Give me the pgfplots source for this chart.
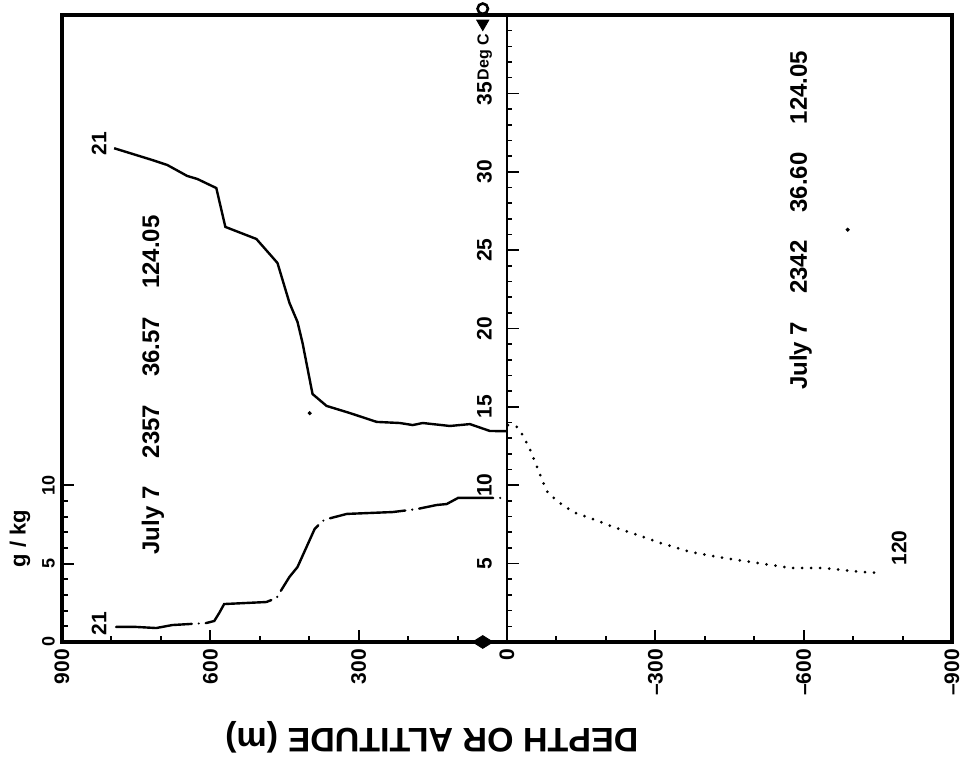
\documentclass[border=0pt]{standalone}
\usepackage{pgfplots}
\pgfplotsset{compat=1.18}
\usepackage{pgfplotstable}
\usepackage{fontspec}
\setmainfont{Liberation Sans}

% temperature, July 7 2357 (solid)
\pgfplotstableread{
d v
794.6 31.50
717.6 30.75
687.0 30.43
646.7 29.73
626.4 29.54
587.9 28.96
569.6 26.48
506.8 25.71
464.2 24.18
439.9 21.63
423.7 20.42
413.5 19.08
393.3 15.82
364.9 15.06
318.3 14.61
263.5 14.04
216.9 13.97
190.6 13.84
170.3 13.97
115.5 13.78
75.0 13.90
34.5 13.46
0 13.45
}\tempup

% specific humidity g/kg (dash-dot)
\pgfplotstableread{
d v
790.6 0.96
750.0 0.96
709.5 0.89
677.0 1.08
608.0 1.21
592.0 1.34
582.0 1.85
572.0 2.42
486.5 2.55
466.0 2.81
460.0 3.13
440.0 4.15
423.7 4.78
389.0 7.21
373.0 7.72
363.0 7.85
324.0 8.17
231.0 8.29
182.0 8.48
142.0 8.74
122.0 8.80
99.0 9.19
0 9.19
}\humid

% temperature, July 7 2342 (dotted)
\pgfplotstableread{
d v
-2 13.84
-20 13.72
-32 13.20
-47 12.25
-61 11.16
-71 10.33
-83 9.50
-107 8.87
-134 8.29
-168 7.91
-215 7.34
-264 6.83
-310 6.32
-371 5.74
-438 5.36
-507 5.04
-574 4.72
-641 4.72
-695 4.53
-750 4.40
}\tempdown

\begin{document}
\begin{tikzpicture}[font=\bfseries]
\begin{axis}[
  name=ax, at={(0,0)}, anchor=south west,
  scale only axis, width=445pt, height=313.5pt,
  xmin=-900, xmax=900, x dir=reverse,
  ymin=0, ymax=40,
  axis line style={line width=2pt},
  xtick={-900,-600,-300,0,300,600,900},
  xticklabels={--900,--600,--300,0,300,600,900},
  minor xtick={-800,-700,-500,-400,-200,-100,100,200,400,500,700,800},
  ytick={0,5,10}, yticklabels={0,5,10},
  minor ytick={1,2,3,4,6,7,8,9},
  tick align=inside, xtick pos=left, ytick pos=left,
  major tick length=6pt, minor tick length=3pt,
  tick style={line width=1pt, black},
  xticklabel style={rotate=90, anchor=east, font=\bfseries\fontsize{10.5}{12}\selectfont},
  yticklabel style={rotate=90, anchor=south, font=\bfseries\fontsize{9}{11}\selectfont},
  clip=false,
]
\addplot[black, line width=1.2pt] table[x=d, y=v] {\tempup};
\addplot[black, line width=1.2pt, line cap=round,
  dash pattern=on 38pt off 3.5pt on 0pt off 3.5pt] table[x=d, y=v] {\humid};
\addplot[black, line width=1.5pt, line cap=round,
  dash pattern=on 0pt off 4.5pt] table[x=d, y=v] {\tempdown};
\addplot[only marks, mark=*, mark size=0.8pt, black] coordinates {(399,14.6) (-689,26.3)};
\addplot[only marks, mark=diamond*, mark size=4pt, black, mark options={xscale=1.7, yscale=0.8}] coordinates {(49,0)};
\addplot[only marks, mark=triangle*, mark size=3.5pt, black, mark options={rotate=180}] coordinates {(49,39.45)};
\addplot[only marks, mark=o, mark size=2.6pt, black, mark options={line width=1.3pt}] coordinates {(49,40.4)};

% Deg C axis along depth 0
\draw[line width=1pt] (axis cs:0,0) -- (axis cs:0,40);
\pgfplotsinvokeforeach{1,...,39}{\draw[line width=0.8pt] (axis cs:0,#1) -- ([xshift=2.5pt]axis cs:0,#1);}
\pgfplotsinvokeforeach{5,10,...,35}{%
  \draw[line width=0.8pt] (axis cs:0,#1) -- ([xshift=6pt]axis cs:0,#1);
  \node[rotate=90, anchor=south, font=\bfseries\fontsize{10.5}{12}\selectfont] at ([xshift=-4pt]axis cs:0,#1) {#1};}
\node[rotate=90, anchor=south, font=\bfseries\fontsize{8}{10}\selectfont] at ([xshift=-4pt]axis cs:0,37.3) {Deg C};

\node[rotate=90, font=\bfseries\fontsize{11}{13}\selectfont] at ([xshift=-21pt]axis cs:900,6.6) {g / kg};
\node[rotate=180, font=\bfseries\fontsize{17}{20}\selectfont] at ([yshift=-47.5pt]axis cs:152,0) {DEPTH OR ALTITUDE (m)};

\node[rotate=90, font=\bfseries\fontsize{12}{14}\selectfont] at (axis cs:716,16.4)
  {July 7\hspace{14pt}2357\hspace{14pt}36.57\hspace{14pt}124.05};
\node[rotate=90, font=\bfseries\fontsize{12}{14}\selectfont] at (axis cs:-594,26.9)
  {July 7\hspace{14pt}2342\hspace{14pt}36.60\hspace{14pt}124.05};
\node[rotate=90, font=\bfseries\fontsize{10.5}{12}\selectfont] at (axis cs:825,31.8) {21};
\node[rotate=90, font=\bfseries\fontsize{10.5}{12}\selectfont] at (axis cs:825,1.15) {21};
\node[rotate=90, font=\bfseries\fontsize{10.5}{12}\selectfont] at (axis cs:-793,6.0) {120};
\end{axis}
\pgfresetboundingbox
\path[use as bounding box] ([xshift=-31pt,yshift=-60.5pt]ax.south west) rectangle ([xshift=7pt,yshift=7.5pt]ax.north east);
\end{tikzpicture}
\end{document}
